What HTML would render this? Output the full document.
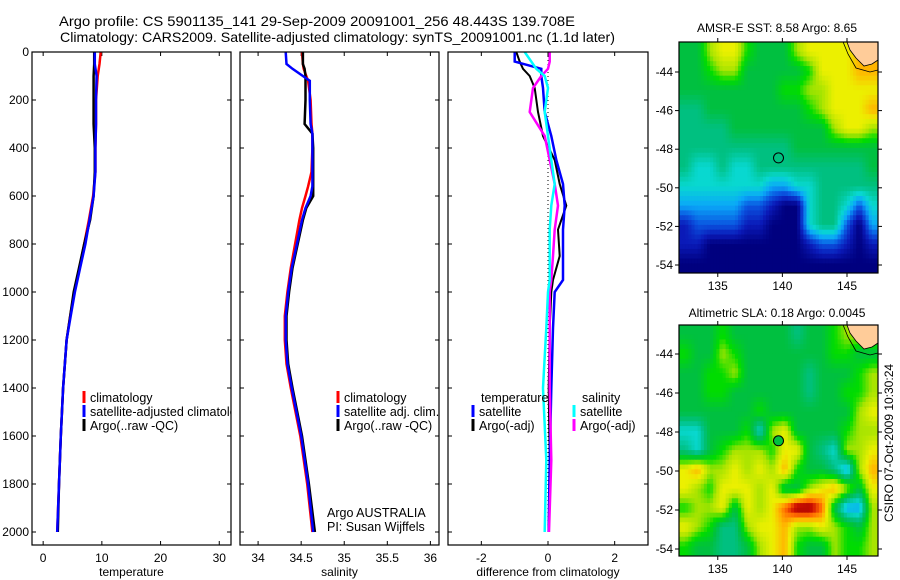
<!DOCTYPE html>
<html><head><meta charset="utf-8"><style>
html,body{margin:0;padding:0;background:#fff;}
svg{display:block;font-family:"Liberation Sans",sans-serif;}
</style></head><body>
<svg id="fig" width="900" height="580" viewBox="0 0 900 580" xmlns="http://www.w3.org/2000/svg">
<text x="59" y="26" font-size="14" textLength="516" lengthAdjust="spacingAndGlyphs">Argo profile: CS 5901135_141 29-Sep-2009 20091001_256 48.443S 139.708E</text>
<text x="60" y="42" font-size="14" textLength="555" lengthAdjust="spacingAndGlyphs">Climatology: CARS2009. Satellite-adjusted climatology: synTS_20091001.nc (1.1d later)</text>
<text x="777" y="32" font-size="12" text-anchor="middle">AMSR-E SST: 8.58 Argo: 8.65</text>
<text x="777" y="317" font-size="12" text-anchor="middle">Altimetric SLA: 0.18 Argo: 0.0045</text>
<text transform="translate(893,443) rotate(-90)" font-size="12" text-anchor="middle">CSIRO 07-Oct-2009 10:30:24</text>
<g id="layer"></g>
</svg>
<script>
// ---- profile data ----
const tDepths=[0,50,100,200,300,400,500,600,700,800,900,1000,1100,1200,1400,1600,1800,2000];
const tClim=[9.8,9.6,9.3,9.0,9.0,8.9,8.9,8.5,7.8,7.0,6.2,5.3,4.6,4.0,3.4,3.0,2.7,2.4];
const tSat=[8.8,8.8,9.1,9.0,9.0,8.9,8.9,8.6,7.9,7.2,6.3,5.4,4.7,4.0,3.4,3.0,2.7,2.4];
const tArgo=[8.7,8.7,8.6,8.6,8.6,8.8,8.8,8.6,8.0,7.0,6.1,5.2,4.6,4.0,3.4,3.0,2.7,2.5];
const sDepths=[0,50,70,100,120,200,300,340,400,500,560,600,650,700,800,900,1000,1100,1200,1300,1400,1600,1800,2000];
const sClim=[34.51,34.52,34.53,34.56,34.58,34.61,34.62,34.63,34.63,34.62,34.58,34.55,34.51,34.48,34.43,34.38,34.34,34.31,34.31,34.33,34.38,34.49,34.57,34.63];
const sSat=[34.32,34.33,34.4,34.52,34.6,34.6,34.61,34.63,34.63,34.63,34.63,34.61,34.55,34.51,34.45,34.39,34.35,34.32,34.32,34.34,34.39,34.50,34.58,34.64];
const sArgo=[34.52,34.52,34.54,34.55,34.55,34.55,34.54,34.63,34.64,34.64,34.64,34.64,34.56,34.52,34.46,34.40,34.36,34.33,34.33,34.35,34.40,34.51,34.59,34.66];
const dDepths=[0,40,70,100,150,250,350,450,550,640,740,850,950,1000,1150,1400,1700,2000];
const dTSat=[-1.0,-1.0,-0.2,-0.2,-0.15,-0.1,0.1,0.25,0.45,0.5,0.45,0.45,0.45,0.2,0.15,0.1,0.05,0.02];
const dTArgo=[-0.95,-0.85,-0.75,-0.55,-0.4,-0.3,-0.15,0.2,0.35,0.55,0.3,0.35,0.15,0.1,0.05,0.02,0.05,0.02];
const dSSat=[-0.7,-0.5,-0.35,-0.1,0.0,-0.1,0.0,0.1,0.2,0.1,0.05,0.05,0.05,0.0,-0.05,-0.15,-0.05,-0.1];
const dSArgo=[0.05,0.05,0.0,-0.2,-0.45,-0.55,-0.1,0.05,0.2,0.3,0.2,0.15,0.1,0.05,0.05,0.05,0.1,0.03];
const depthTicks=[0,200,400,600,800,1000,1200,1400,1600,1800,2000];
const tTicks=[0,10,20,30];
const sTicks=[34,34.5,35,35.5,36];
const dTicks=[-2,0,2];
// ---- map data (colour index per cell, rows north->south) ----
const sstRows=["66899766689999aa","66788666667999aa","6666666677889999","556666666678999a","5555666666668998","5555555556666666","5445445555555556","4444444334455555","3333322100455424","1222211000455203","1100000000122101","0000000000000000"];
const slaRows=["6667666665667888","7668766666667766","6677866666566678","6677666666566778","6666667666666689","4466674896666788","5467888799654889","9a889898a766538a","987999896689a869","78896989bddb6338","98755899a8898768","76655689a7668778"];
const palette=["#00007f","#0a1ab8","#0a55e0","#0aa8f8","#08d8d0","#00c080","#00c040","#00dc00","#a8e400","#ecf000","#ffb400","#ff6a00","#d01000","#980000"];
const mapTicksX=[135,140,145];
const mapTicksY=[-44,-46,-48,-50,-52,-54];

const NS="http://www.w3.org/2000/svg";
const layer=document.getElementById('layer');
function mk(tag,attrs,parent){const e=document.createElementNS(NS,tag);for(const k in attrs)e.setAttribute(k,attrs[k]);(parent||layer).appendChild(e);return e;}

function panel(name,x0,x1,xmin,xmax,xticks,xlabel,showY){
  const y0=52,y1=545;
  const sx=v=>x0+(v-xmin)/(xmax-xmin)*(x1-x0);
  const sy=d=>52+d*0.24;
  const g=mk('g',{});
  
  
  const clip=mk('clipPath',{id:name+'-clip'},g);mk('rect',{x:x0,y:y0,width:x1-x0,height:y1-y0},clip);
  mk('rect',{x:x0,y:y0,width:x1-x0,height:y1-y0,fill:'#fff',stroke:'none'},g);
  xticks.forEach(v=>{
    const t=mk('g',{},g);
    
    
    mk('line',{x1:sx(v),x2:sx(v),y1:y1,y2:y1-4,stroke:'#000'},t);
    mk('line',{x1:sx(v),x2:sx(v),y1:y0,y2:y0+4,stroke:'#000'},t);
    const tx=mk('text',{x:sx(v),y:y1+17,'font-size':12,'text-anchor':'middle'},t);tx.textContent=String(v);
  });
  depthTicks.forEach(d=>{
    mk('line',{x1:x0,x2:x0+4,y1:sy(d),y2:sy(d),stroke:'#000'},g);
    mk('line',{x1:x1,x2:x1-4,y1:sy(d),y2:sy(d),stroke:'#000'},g);
    if(showY){const tx=mk('text',{x:x0-3,y:sy(d)+4,'font-size':12,'text-anchor':'end'},g);
      
      
      tx.textContent=String(d);}
  });
  const xl=mk('text',{x:(x0+x1)/2,y:576,'font-size':12,'text-anchor':'middle'},g);
  
  
  xl.textContent=xlabel;
  const lines=mk('g',{'clip-path':'url(#'+name+'-clip)'},g);
  return {g,lines,sx,sy,x0,x1,y0,y1};
}
function series(p,depths,vals,color,nm,w){
  const pts=depths.map((d,i)=>p.sx(vals[i]).toFixed(1)+','+p.sy(d).toFixed(1)).join(' ');
  const pl=mk('polyline',{points:pts,fill:'none',stroke:color,'stroke-width':w||2.5,'stroke-linejoin':'miter'},p.lines);
  
  
}
function frame(p){mk('rect',{x:p.x0,y:p.y0,width:p.x1-p.x0,height:p.y1-p.y0,fill:'none',stroke:'#000','stroke-width':1.2},p.g);}
function legend(p,x,y,color,label,nm,clipIt){
  const e=mk('g',{},clipIt?p.lines:p.g);
  
  
  if(color)mk('rect',{x:x-1.5,y:y-11,width:3,height:12,fill:color},e);
  const t=mk('text',{x:x+6,y:y,'font-size':12.5},e);t.textContent=label;
}

const p1=panel('temperature',32,231,-1.9,32,tTicks,'temperature',true);
series(p1,tDepths,tClim,'#f00','temp-climatology-line');
series(p1,tDepths,tArgo,'#000','temp-argo-line');
series(p1,tDepths,tSat,'#00f','temp-satellite-line');
legend(p1,84,402,'#f00','climatology','legend-entry-climatology',true);
legend(p1,84,416,'#00f','satellite-adjusted climatology','legend-entry-satellite',true);
legend(p1,84,430,'#000','Argo(..raw -QC)','legend-entry-argo',true);
frame(p1);
const p2=panel('salinity',240,439,33.79,36.1,sTicks,'salinity',false);
series(p2,sDepths,sClim,'#f00','sal-climatology-line');
series(p2,sDepths,sArgo,'#000','sal-argo-line');
series(p2,sDepths,sSat,'#00f','sal-satellite-line');
legend(p2,338,402,'#f00','climatology','legend-entry-climatology');
legend(p2,338,416,'#00f','satellite adj. clim.','legend-entry-satellite');
legend(p2,338,430,'#000','Argo(..raw -QC)','legend-entry-argo');
legend(p2,321,517,null,'Argo AUSTRALIA','credit-argo-australia');
legend(p2,321,531,null,'PI: Susan Wijffels','credit-pi');
frame(p2);
const p3=panel('difference',448,648,-3,3,dTicks,'difference from climatology',false);
mk('line',{x1:p3.sx(0),x2:p3.sx(0),y1:p3.sy(0),y2:p3.sy(2000),stroke:'#000','stroke-dasharray':'1,3'},p3.lines);
series(p3,dDepths,dTArgo,'#000','diff-temp-argo-line',2);
series(p3,dDepths,dTSat,'#00f','diff-temp-satellite-line',2.5);
series(p3,dDepths,dSArgo,'#f0f','diff-sal-argo-line',2.5);
series(p3,dDepths,dSSat,'#0ff','diff-sal-satellite-line',2.5);
legend(p3,475,402,null,'temperature','legend-header-temperature');
legend(p3,473,416,'#00f','satellite','legend-entry-temp-satellite');
legend(p3,473,430,'#000','Argo(-adj)','legend-entry-temp-argo');
legend(p3,576,402,null,'salinity','legend-header-salinity');
legend(p3,574,416,'#0ff','satellite','legend-entry-sal-satellite');
legend(p3,574,430,'#f0f','Argo(-adj)','legend-entry-sal-argo');
frame(p3);

function hex2rgb(h){return [parseInt(h.substr(1,2),16),parseInt(h.substr(3,2),16),parseInt(h.substr(5,2),16)];}
function colorAt(v){
  v=Math.max(0,Math.min(palette.length-1,v));
  const i=Math.min(palette.length-2,Math.floor(v)),f=v-i;
  const a=hex2rgb(palette[i]),b=hex2rgb(palette[i+1]);
  return 'rgb('+a.map((c,k)=>Math.round(c+(b[k]-c)*f)).join(',')+')';
}
function drawMap(name,rows,top,bot,lat44Y,lat54Y,dotFill){
  const x0=679,x1=878,lonL=132,lonR=147.4;
  const sx=lon=>x0+(lon-lonL)/(lonR-lonL)*(x1-x0);
  const k=(lat54Y-lat44Y)/10;
  const sy=lat=>lat44Y+(-44-lat)*k;
  const latT=-44+(lat44Y-top)/k, latB=-54-(bot-lat54Y)/k;
  const g=mk('g',{});
  
  
  const nr=rows.length,nc=rows[0].length;
  const grid=rows.map(r=>r.split('').map(ch=>parseInt(ch,16)));
  const val=(r,c)=>{
    r=Math.max(0,Math.min(nr-1,r));c=Math.max(0,Math.min(nc-1,c));
    const r0=Math.floor(r),c0=Math.floor(c),r1=Math.min(nr-1,r0+1),c1=Math.min(nc-1,c0+1),fr=r-r0,fc=c-c0;
    return grid[r0][c0]*(1-fr)*(1-fc)+grid[r0][c1]*(1-fr)*fc+grid[r1][c0]*fr*(1-fc)+grid[r1][c1]*fr*fc;
  };
  const S=4;
  const dLat=(latT-latB)/(nr*S),dLon=(lonR-lonL)/(nc*S);
  for(let r=0;r<nr*S;r++){
    for(let c=0;c<nc*S;c++){
      const lat=latT-r*dLat,lon=lonL+c*dLon;
      const v=val((r+0.5)/S-0.5,(c+0.5)/S-0.5);
      const cell=mk('rect',{x:sx(lon).toFixed(2),y:sy(lat).toFixed(2),width:(sx(lon+dLon)-sx(lon)+0.5).toFixed(2),height:(sy(lat-dLat)-sy(lat)+0.5).toFixed(2),fill:colorAt(v)},g);
      
      
    }
  }
  const land=mk('path',{d:`M${sx(145)} ${top} L${x1} ${top} L${x1} ${top+18} L${x1-6} ${top+22} L${x1-14} ${top+24} L${x1-22} ${top+16} L${x1-28} ${top+8} Z`,fill:'#ffcc99',stroke:'#000','stroke-width':0.8},g);
  
  
  mk('path',{d:`M${sx(144.7)} ${top} L${x1-30} ${top+12} L${x1-22} ${top+26} L${x1-8} ${top+30} L${x1} ${top+28}`,fill:'none',stroke:'#000','stroke-width':0.8},g);
  const dot=mk('circle',{cx:sx(139.7),cy:sy(-48.45),r:5,fill:dotFill,stroke:'#000','stroke-width':1},g);
  
  
  mk('rect',{x:x0,y:top,width:x1-x0,height:bot-top,fill:'none',stroke:'#000','stroke-width':1.2},g);
  mapTicksX.forEach(v=>{
    mk('line',{x1:sx(v),x2:sx(v),y1:top,y2:top-4,stroke:'#000'},g);
    mk('line',{x1:sx(v),x2:sx(v),y1:bot,y2:bot+4,stroke:'#000'},g);
    const t=mk('text',{x:sx(v),y:bot+17,'font-size':12,'text-anchor':'middle'},g);
    
    
    t.textContent=String(v);
  });
  mapTicksY.forEach(v=>{
    mk('line',{x1:x0,x2:x0-4,y1:sy(v),y2:sy(v),stroke:'#000'},g);
    mk('line',{x1:x1,x2:x1+4,y1:sy(v),y2:sy(v),stroke:'#000'},g);
    const t=mk('text',{x:x0-6,y:sy(v)+4,'font-size':12,'text-anchor':'end'},g);
    
    
    t.textContent=String(v);
  });
}
drawMap('sst',sstRows,42,273,72,265,'none');
drawMap('sla',slaRows,325,556,354,549,'#00c040');
</script>
</body></html>
